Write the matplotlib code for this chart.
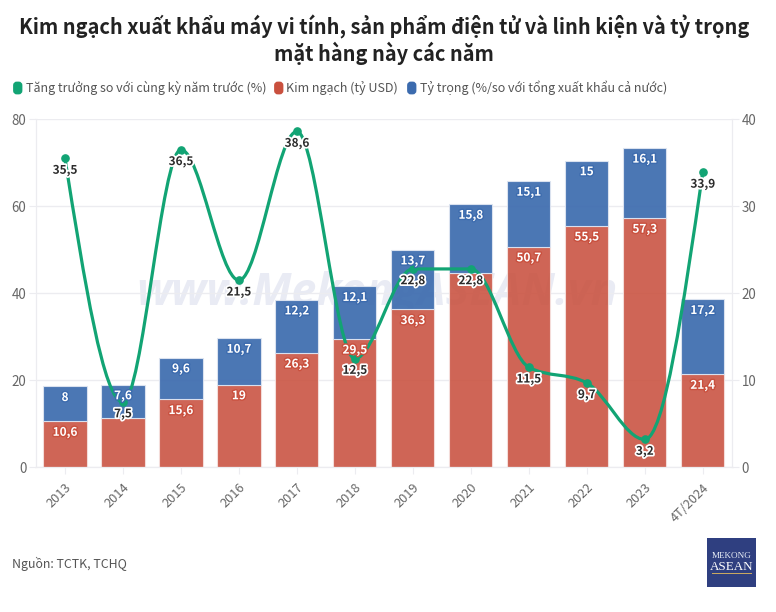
# stacked bars (left axis) with growth line (right axis)
import matplotlib
matplotlib.use('Agg')
import matplotlib.pyplot as plt
import matplotlib.patheffects as pe
from matplotlib.patches import FancyBboxPatch, PathPatch, Rectangle
from matplotlib.path import Path

plt.rcParams['font.family'] = ['Noto Sans CJK SC', 'DejaVu Sans']

years = ['2013', '2014', '2015', '2016', '2017', '2018', '2019', '2020', '2021', '2022', '2023', '4T/2024']
kim_ngach = [10.6, 11.4, 15.6, 19, 26.3, 29.5, 36.3, 44.7, 50.7, 55.5, 57.3, 21.4]
kim_ngach_labels = ['10,6', '', '15,6', '19', '26,3', '29,5', '36,3', '', '50,7', '55,5', '57,3', '21,4']
ty_trong = [8, 7.6, 9.6, 10.7, 12.2, 12.1, 13.7, 15.8, 15.1, 15, 16.1, 17.2]
ty_trong_labels = ['8', '7,6', '9,6', '10,7', '12,2', '12,1', '13,7', '15,8', '15,1', '15', '16,1', '17,2']
tang_truong = [35.5, 7.5, 36.5, 21.5, 38.6, 12.5, 22.8, 22.8, 11.5, 9.7, 3.2, 33.9]
tang_truong_labels = ['35,5', '7,5', '36,5', '21,5', '38,6', '12,5', '22,8', '22,8', '11,5', '9,7', '3,2', '33,9']

RED = '#c9503e'
BLUE = '#3c6bae'
GREEN = '#12a474'
GREY = '#666666'
GRID = '#ececf0'
W, H = 776, 612


def fx(px):
    return px / W


def fy(px):
    return 1 - px / H


def monotone_path(xs, ys):
    # monotone cubic, flat at the local peaks like the original line
    n = len(xs)
    slopes = [(ys[i + 1] - ys[i]) / (xs[i + 1] - xs[i]) for i in range(n - 1)]
    tang = [0.0] * n
    for i in range(1, n - 1):
        s0, s1 = slopes[i - 1], slopes[i]
        if s0 * s1 > 0:
            sign = 1 if s0 > 0 else -1
            tang[i] = 2 * sign * min(abs(s0), abs(s1), 0.25 * abs(s0 + s1))
    tang[0] = (3 * slopes[0] - tang[1]) / 2
    tang[-1] = (3 * slopes[-1] - tang[-2]) / 2
    verts = [(xs[0], ys[0])]
    codes = [Path.MOVETO]
    for i in range(n - 1):
        h = (xs[i + 1] - xs[i]) / 3
        verts += [(xs[i] + h, ys[i] + h * tang[i]),
                  (xs[i + 1] - h, ys[i + 1] - h * tang[i + 1]),
                  (xs[i + 1], ys[i + 1])]
        codes += [Path.CURVE4] * 3
    return Path(verts, codes)


fig = plt.figure(figsize=(W / 100, H / 100), dpi=100)
ax = fig.add_axes([fx(36), fy(467.3), fx(731.7) - fx(36), fy(119.3) - fy(467.3)])
ax2 = ax.twinx()
pos = list(range(len(years)))

ax.set_xlim(-0.5, len(years) - 0.5)
ax.set_ylim(0, 80)
ax2.set_ylim(0, 40)
ax.set_yticks([0, 20, 40, 60, 80])
ax2.set_yticks([0, 10, 20, 30, 40])
ax.set_xticks(pos)
ax.set_xticklabels(years, rotation=45, ha='right', rotation_mode='anchor', fontsize=9.2, color=GREY)
ax.grid(axis='y', color=GRID, lw=1)
ax.set_axisbelow(True)
ax.tick_params(axis='x', length=5, color=GRID, pad=5)
ax.tick_params(axis='y', length=5, color=GRID, labelsize=9.6, labelcolor=GREY, pad=2)
ax2.tick_params(axis='y', length=5, color=GRID, labelsize=9.6, labelcolor=GREY, pad=2)
for a in (ax, ax2):
    a.spines['top'].set_visible(False)
    for s in ('left', 'right', 'bottom'):
        a.spines[s].set_color(GRID)

ax.text(0.49, 0.50, 'www.MekongASEAN.vn', transform=ax.transAxes, ha='center', va='center',
        fontsize=32, fontweight='bold', style='italic', color='#e9ebf4', zorder=0.5,
        family=['Open Sans', 'DejaVu Sans'])

ax.bar(pos, kim_ngach, width=0.745, color=RED, alpha=0.88, edgecolor='#f6e3e0', lw=0.8, zorder=2)
ax.bar(pos, ty_trong, width=0.745, bottom=kim_ngach, color=BLUE, alpha=0.92, edgecolor='#dfe6f2', lw=0.8, zorder=2)

ax2.add_patch(PathPatch(monotone_path(pos, tang_truong), fc='none', ec=GREEN, lw=2.3, zorder=3))
ax2.plot(pos, tang_truong, 'o', color=GREEN, ms=5.2, zorder=4)

# all labels sit above the line, so they go on the top axes
for i in pos:
    top_red = kim_ngach[i]
    top_blue = kim_ngach[i] + ty_trong[i]
    if kim_ngach_labels[i]:
        ax2.annotate(kim_ngach_labels[i], (i, top_red), xycoords=ax.transData, xytext=(0, -8),
                     textcoords='offset points', ha='center', va='center', fontsize=8.5,
                     fontweight='bold', color='white', zorder=5,
                     path_effects=[pe.withStroke(linewidth=2, foreground='#c9503e')])
    ax2.annotate(ty_trong_labels[i], (i, top_blue), xycoords=ax.transData, xytext=(0, -8),
                 textcoords='offset points', ha='center', va='center', fontsize=8.5,
                 fontweight='bold', color='white', zorder=5,
                 path_effects=[pe.withStroke(linewidth=2, foreground='#3c6bae')])
for i in pos:
    ax2.annotate(tang_truong_labels[i], (i, tang_truong[i]), xytext=(0, -8.5), textcoords='offset points',
                 ha='center', va='center', fontsize=8.5, fontweight='bold', color='#2b2b2b', zorder=6,
                 path_effects=[pe.withStroke(linewidth=2.5, foreground='white')])

fig.text(fx(384), fy(27), 'Kim ngạch xuất khẩu máy vi tính, sản phẩm điện tử và linh kiện và tỷ trọng',
         ha='center', va='center', fontsize=14.4, fontweight='bold', color='#222222')
fig.text(fx(384), fy(53), 'mặt hàng này các năm',
         ha='center', va='center', fontsize=14.4, fontweight='bold', color='#222222')

# legend placed by hand to sit on one line
legend_items = [(13, GREEN, 'Tăng trưởng so với cùng kỳ năm trước (%)'),
                (274, RED, 'Kim ngạch (tỷ USD)'),
                (407, BLUE, 'Tỷ trọng (%/so với tổng xuất khẩu cả nước)')]
for x0, col, label in legend_items:
    fig.add_artist(FancyBboxPatch((fx(x0 + 1.5), fy(93)), 6.5 / W, 10 / H,
                                  boxstyle='round,pad=0,rounding_size=0.003', fc=col, ec=col, lw=2,
                                  transform=fig.transFigure, mutation_aspect=W / H))
    fig.text(fx(x0 + 12.5), fy(88), label, ha='left', va='center', fontsize=9.0, color='#555555')

fig.text(fx(12), fy(564), 'Nguồn: TCTK, TCHQ', ha='left', va='center', fontsize=8.9, color='#555555')

# logo
fig.add_artist(Rectangle((fx(707), fy(587)), 49 / W, 49 / H, fc='#2f3f80', ec='none', transform=fig.transFigure))
fig.text(fx(732), fy(556), 'MEKONG', ha='center', va='center', fontsize=6.6, color='#e8edf5', family='Liberation Serif')
fig.text(fx(732), fy(566.5), 'ASEAN', ha='center', va='center', fontsize=9.4, color='white', family='Liberation Serif')
fig.add_artist(Rectangle((fx(712), fy(574)), 40 / W, 1.5 / H, fc='#c9a860', ec='none', transform=fig.transFigure))

fig.savefig('out.png', dpi=100)
